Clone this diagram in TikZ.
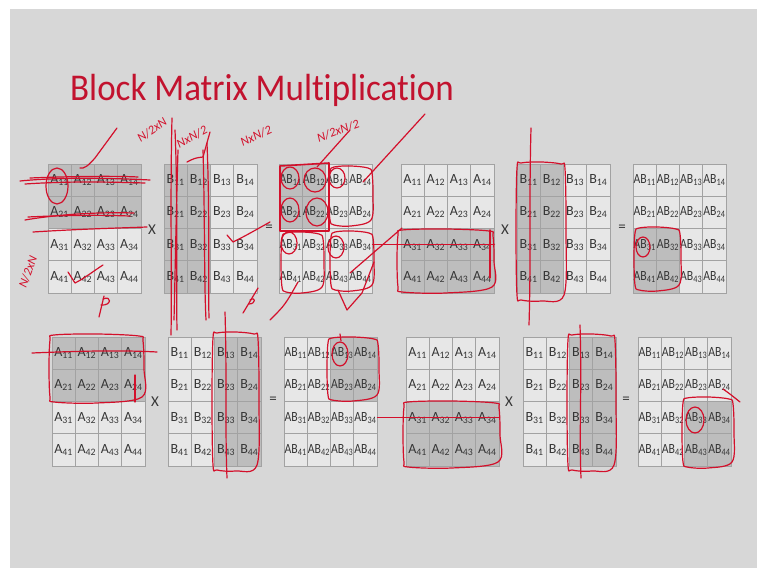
\documentclass[tikz,border=0pt]{standalone}
\usepackage{fontspec}
\setmainfont{Carlito}[Ligatures=NoCommon]
\definecolor{slidebg}{HTML}{D7D7D7}
\definecolor{cellplain}{HTML}{E7E7E7}
\definecolor{cellshade}{HTML}{BDBDBD}
\definecolor{gridline}{HTML}{A2A2A2}
\definecolor{labelgray}{HTML}{363636}
\definecolor{titlered}{HTML}{C2122E}
\definecolor{ink}{HTML}{D3102B}

\tikzset{
  cell/.style={draw=gridline, line width=0.8pt, minimum width=23.25pt,
    minimum height=32.25pt, inner sep=0pt, text=labelgray,
    font=\fontsize{14}{14}\selectfont},
  op/.style={text=labelgray, font=\fontsize{15}{15}\selectfont, inner sep=0pt},
  inkline/.style={draw=ink, line width=1.2pt, line cap=round, line join=round},
  hand/.style={text=ink, font=\itshape\fontsize{12.5}{12.5}\selectfont, inner sep=0pt},
}

% cell label: letters, then the block index as a subscript
\newcommand\celllabel[2]{%
  \ifnum\pdfstrcmp{#1}{AB}=0
    \scalebox{0.84}[1]{#1\textsubscript{#2}}%
  \else
    #1\textsubscript{#2}%
  \fi}

% 4x4 block grid: name, left, top, letter, shaded rows r1..r2, shaded cols c1..c2
\newcommand\blockgrid[8]{%
  \foreach \r in {1,...,4}{%
    \foreach \c in {1,...,4}{%
      \pgfmathtruncatemacro\sh{(\r>=#5)&&(\r<=#6)&&(\c>=#7)&&(\c<=#8)}%
      \ifnum\sh=1 \def\cf{cellshade}\else\def\cf{cellplain}\fi
      \node[cell, fill=\cf] (#1-\r-\c) at ({#2+(\c-0.5)*23.25},{#3+(\r-0.5)*32.25}) {\celllabel{#4}{\r\c}};
    }%
  }%
}

% freehand loop around a box x1,y1 -- x2,y2
\newcommand\inkloop[4]{%
  \draw[inkline] plot[smooth cycle, tension=0.55] coordinates {
    ({#1+4},{#2}) ({(#1+#3)/2},{#2-1}) ({#3-4},{#2+1}) ({#3},{#2+6})
    ({#3+1},{(#2+#4)/2}) ({#3-1},{#4-5}) ({(#1+#3)/2},{#4+1}) ({#1+4},{#4})
    ({#1},{#4-5}) ({#1-1},{(#2+#4)/2}) ({#1},{#2+5})};
}

\begin{document}
\begin{tikzpicture}[x=1pt, y=-1pt]
\useasboundingbox (0,0) rectangle (767,577);
\fill[white] (0,0) rectangle (767,577);
\fill[slidebg] (10,9) rectangle (757,568);

\node[anchor=base west, text=titlered, font=\fontsize{35}{35}\selectfont, inner sep=0pt, yscale=1.08]
  (title) at (70,101) {Block Matrix Multiplication};

% first row of products
\blockgrid{ga1}{48}{164}{A}{1}{2}{1}{4}
\blockgrid{gb1}{164}{164}{B}{1}{4}{1}{2}
\blockgrid{gab1}{279}{164}{AB}{1}{2}{1}{2}
\blockgrid{ga2}{401}{164}{A}{3}{4}{1}{4}
\blockgrid{gb2}{517}{164}{B}{1}{4}{1}{2}
\blockgrid{gab2}{633}{164}{AB}{3}{4}{1}{2}
% second row of products
\blockgrid{ga3}{52}{337}{A}{1}{2}{1}{4}
\blockgrid{gb3}{168}{337}{B}{1}{4}{3}{4}
\blockgrid{gab3}{284}{337}{AB}{1}{2}{3}{4}
\blockgrid{ga4}{406}{337}{A}{3}{4}{1}{4}
\blockgrid{gb4}{523}{337}{B}{1}{4}{3}{4}
\blockgrid{gab4}{638}{337}{AB}{3}{4}{3}{4}

\node[op] (x1) at (152,230) {X};
\node[op] (e1) at (269,228) {=};
\node[op] (x2) at (505,230) {X};
\node[op] (e2) at (622,228) {=};
\node[op] (x3) at (155,402) {X};
\node[op] (e3) at (273,400) {=};
\node[op] (x4) at (509,402) {X};
\node[op] (e4) at (626,400) {=};

% ---- pen annotations, first row ----
% A: strike-throughs of the top block rows
\draw[inkline] (20,181) .. controls (60,177) and (110,178) .. (150,180);
\draw[inkline] (25,184) .. controls (70,181) and (110,182) .. (145,183);
\draw[inkline] (30,178) .. controls (80,176) and (120,176) .. (138,177);
\draw[inkline] (57,186) ellipse [x radius=11, y radius=18];
\draw[inkline] (25,220) .. controls (60,214) and (100,212) .. (134,213);
\draw[inkline] (28,217) .. controls (70,215) and (100,215) .. (130,216);
\draw[inkline] (33,232) .. controls (80,229) and (120,228) .. (147,227);
\draw[inkline] (68,272) -- (75,283) .. controls (85,278) and (95,270) .. (103,265);
\draw[inkline] (99,317) -- (104,296);
\draw[inkline] (103,299) .. controls (112,295) and (112,306) .. (101,305);
\node[hand, rotate=70] (t1) at (28,272) {N/2xN};
\draw[inkline] (80,168) .. controls (84,169) and (88,166) .. (95,158) -- (117,128);
\node[hand, rotate=35] (t2) at (152,130) {N/2xN};
% B: columns marked
\draw[inkline] (172,118) .. controls (170,200) and (172,280) .. (171,335);
\draw[inkline] (175,130) .. controls (178,200) and (176,280) .. (177,330);
\draw[inkline] (178,150) .. controls (176,220) and (175,280) .. (174,320);
\draw[inkline] (203,150) .. controls (205,220) and (204,280) .. (206,320);
\draw[inkline] (207,143) .. controls (210,220) and (208,280) .. (209,318);
\draw[inkline] (187,162) .. controls (195,158) .. (203,157) -- (210,132);
\node[hand, rotate=28] (t3) at (192,137) {NxN/2};
\node[hand, rotate=25] (t4) at (256,136) {NxN/2};
\draw[inkline] (227,235) -- (233,242) .. controls (245,236) .. (270,222);
\draw[inkline] (243,313) -- (258,288);
\draw[inkline] (250,300) .. controls (256,296) and (256,304) .. (249,304);
% AB: quarter blocks
\draw[inkline, line width=1.6pt] (280,166) -- (329,163) -- (329,231) -- (280,231) -- cycle;
\draw[inkline] (290,178) ellipse [x radius=9, y radius=11];
\draw[inkline] (315,180) ellipse [x radius=11, y radius=12];
\draw[inkline] (290,210) ellipse [x radius=9, y radius=12];
\draw[inkline] (317,212) ellipse [x radius=11, y radius=14];
\draw[inkline] (289,243) ellipse [x radius=8, y radius=11];
\draw[inkline] (336,247) ellipse [x radius=8, y radius=11];
\draw[inkline] (337,178) ellipse [x radius=8, y radius=10];
\inkloop{330}{167}{372}{225}
\inkloop{282}{233}{323}{292}
\inkloop{331}{232}{373}{290}
\draw[inkline] (338,290) -- (347,310) -- (362,293) -- (374,262);
\node[hand, rotate=20] (t5) at (338,131) {N/2xN/2};
\draw[inkline] (317,167) -- (350,130);
\draw[inkline] (363,182) -- (425,114);
\draw[inkline] (350,273) -- (402,228);
\draw[inkline] (270,320) .. controls (285,305) .. (298,282);
\draw[inkline] (gab1-3-4.east) -- (ga2-3-4.east);
% A: lower half
\inkloop{398}{230}{493}{292}
\draw[inkline] (490,230) -- (490,278);
% B: left half
\draw[inkline] (531,128) .. controls (529,200) and (531,260) .. (529,325);
\inkloop{517}{163}{565}{300}
% AB: lower left block
\inkloop{635}{228}{680}{290}
\draw[inkline] (643,247) ellipse [x radius=7, y radius=10];

% ---- pen annotations, second row ----
\inkloop{50}{335}{143}{402}
\draw[inkline] (135,375) -- (135,402);
\draw[inkline] (32,353) .. controls (80,351) and (120,350) .. (157,352);
\inkloop{213}{333}{258}{470}
\draw[inkline] (225,312) .. controls (227,380) and (225,430) .. (227,478);
\inkloop{328}{338}{378}{400}
\draw[inkline] (340,354) ellipse [x radius=8, y radius=12];
\draw[inkline] (341,341) -- (340,334);
\draw[inkline] (gab3-3-4.east) -- (ga4-3-4.east);
\inkloop{404}{402}{499}{467}
\inkloop{568}{335}{615}{470}
\draw[inkline] (580,325) .. controls (582,390) and (579,430) .. (581,478);
\inkloop{683}{398}{733}{467}
\draw[inkline] (723,389) .. controls (730,394) .. (740,402);
\draw[inkline] (695,420) ellipse [x radius=9, y radius=13];
\end{tikzpicture}
\end{document}
